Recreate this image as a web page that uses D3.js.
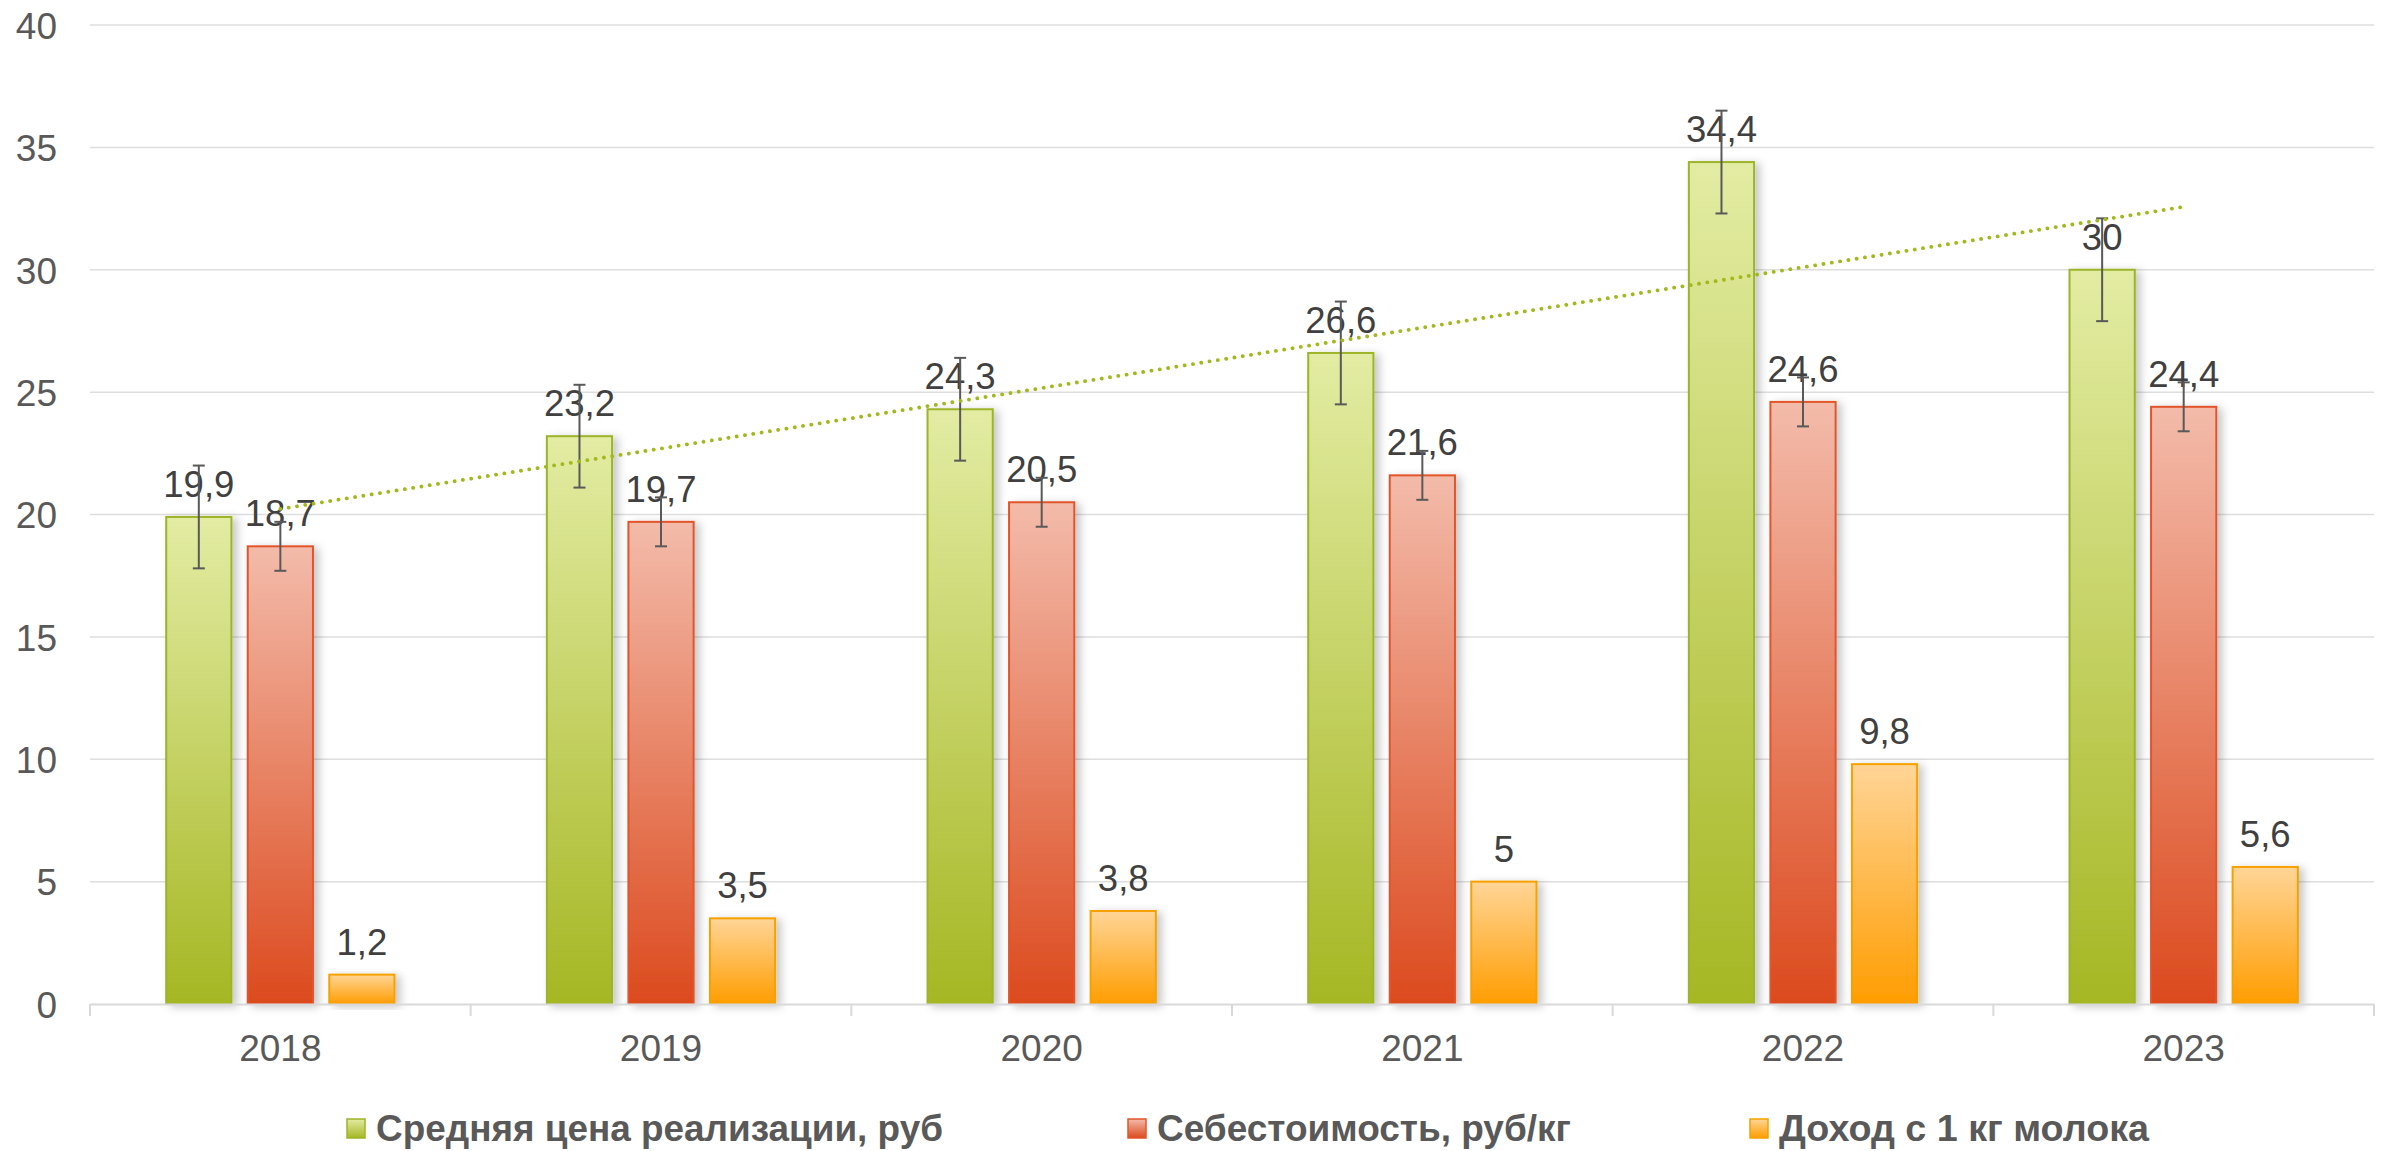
<!DOCTYPE html>
<html>
<head>
<meta charset="utf-8">
<script src="https://cdn.jsdelivr.net/npm/d3@7/dist/d3.min.js"></script>
<style>
  html, body { margin: 0; padding: 0; background: #fff; }
  svg { display: block; font-family: "Liberation Sans", Arial, sans-serif; }
</style>
</head>
<body>
<svg id="chart" width="2402" height="1151"></svg>
<script>
const years = ["2018", "2019", "2020", "2021", "2022", "2023"];
const seriesNames = ["Средняя цена реализации, руб", "Себестоимость, руб/кг", "Доход с 1 кг молока"];
const priceValues = [19.9, 23.2, 24.3, 26.6, 34.4, 30];
const costValues = [18.7, 19.7, 20.5, 21.6, 24.6, 24.4];
const incomeValues = [1.2, 3.5, 3.8, 5, 9.8, 5.6];
const priceErrors = [2.1, 2.1, 2.1, 2.1, 2.1, 2.1];
const costErrors = [1.0, 1.0, 1.0, 1.0, 1.0, 1.0];
const yTicks = [0, 5, 10, 15, 20, 25, 30, 35, 40];

const seriesValues = [priceValues, costValues, incomeValues];
const seriesErrors = [priceErrors, costErrors, null];
const seriesStyle = [
  { top: "#e3eca3", bottom: "#a5b723", stroke: "#9db42a" },
  { top: "#f3bbaa", bottom: "#dc4a1e", stroke: "#e2552a" },
  { top: "#ffd597", bottom: "#ff9d00", stroke: "#f5a100" }
];

const svg = d3.select("#chart");
const x = d3.scaleBand().domain(years).range([90, 2374]).paddingInner(0).paddingOuter(0);
const xs = d3.scaleBand().domain([0, 1, 2]).range([76.2, 304.5]).paddingInner(0.2).paddingOuter(0);
const y = d3.scaleLinear().domain([0, 40]).range([1004, 25]);

const defs = svg.append("defs");
seriesStyle.forEach((s, i) => {
  const g = defs.append("linearGradient").attr("id", "grad" + i)
    .attr("x1", 0).attr("y1", 0).attr("x2", 0).attr("y2", 1);
  g.append("stop").attr("offset", "0%").attr("stop-color", s.top);
  g.append("stop").attr("offset", "100%").attr("stop-color", s.bottom);
});
const f = defs.append("filter").attr("id", "shadow")
  .attr("x", "-20%").attr("y", "-10%").attr("width", "150%").attr("height", "130%");
f.append("feDropShadow").attr("dx", 5).attr("dy", 2).attr("stdDeviation", 4)
  .attr("flood-color", "#000").attr("flood-opacity", 0.22);

// gridlines
svg.append("g").selectAll("line").data(yTicks.filter(t => t > 0)).join("line")
  .attr("x1", 90).attr("x2", 2374)
  .attr("y1", d => y(d)).attr("y2", d => y(d))
  .attr("stroke", "#dedede").attr("stroke-width", 1.5);

// y labels
const yAxis = d3.axisLeft(y).tickValues(yTicks).tickSize(0).tickPadding(0).tickFormat(d3.format("d"));
const yg = svg.append("g").attr("transform", "translate(57,0)").call(yAxis);
yg.select(".domain").remove();
yg.selectAll("text").attr("font-size", 37).attr("fill", "#595959")
  .attr("font-family", "'Liberation Sans', Arial, sans-serif").attr("dy", "0.36em");

// bars
years.forEach((yr, j) => {
  seriesValues.forEach((vals, i) => {
    const v = vals[j];
    svg.append("rect")
      .attr("x", x(yr) + xs(i))
      .attr("y", y(v))
      .attr("width", xs.bandwidth())
      .attr("height", y(0) - y(v))
      .attr("fill", `url(#grad${i})`)
      .attr("stroke", seriesStyle[i].stroke)
      .attr("stroke-width", 2)
      .attr("filter", "url(#shadow)");
  });
});

// x axis
const xAxis = d3.axisBottom(x).tickSize(0).tickPadding(0);
const xg = svg.append("g").attr("transform", `translate(0,${y(0)})`).call(xAxis);
xg.select(".domain").attr("stroke", "#d9d9d9").attr("stroke-width", 2);
xg.selectAll("text").attr("font-size", 37).attr("fill", "#595959")
  .attr("font-family", "'Liberation Sans', Arial, sans-serif").attr("dy", 0).attr("y", 57);
const boundaries = years.map(d => x(d)).concat([x.range()[1]]);
svg.append("g").selectAll("line").data(boundaries).join("line")
  .attr("x1", d => d).attr("x2", d => d)
  .attr("y1", y(0)).attr("y2", y(0) + 12)
  .attr("stroke", "#d9d9d9").attr("stroke-width", 2);

// data labels
const fmt = v => String(v).replace(".", ",");
years.forEach((yr, j) => {
  seriesValues.forEach((vals, i) => {
    const v = vals[j];
    svg.append("text")
      .attr("x", x(yr) + xs(i) + xs.bandwidth() / 2)
      .attr("y", y(v) - 20)
      .attr("text-anchor", "middle")
      .attr("font-size", 36.5)
      .attr("fill", "#404040")
      .text(fmt(v));
  });
});

// error bars
years.forEach((yr, j) => {
  seriesErrors.forEach((errs, i) => {
    if (!errs) return;
    const v = seriesValues[i][j], e = errs[j];
    const cx = x(yr) + xs(i) + xs.bandwidth() / 2;
    const g = svg.append("g").attr("stroke", "#595959").attr("stroke-width", 2);
    g.append("line").attr("x1", cx).attr("x2", cx).attr("y1", y(v + e)).attr("y2", y(v - e));
    g.append("line").attr("x1", cx - 6).attr("x2", cx + 6).attr("y1", y(v + e)).attr("y2", y(v + e));
    g.append("line").attr("x1", cx - 6).attr("x2", cx + 6).attr("y1", y(v - e)).attr("y2", y(v - e));
  });
});

// linear trendline for price series
const xi = years.map((d, k) => k + 1);
const mx = d3.mean(xi), my = d3.mean(priceValues);
const slope = d3.sum(xi.map((a, k) => (a - mx) * (priceValues[k] - my))) / d3.sum(xi.map(a => (a - mx) * (a - mx)));
const icpt = my - slope * mx;
const trend = [
  [x(years[0]) + x.bandwidth() / 2, icpt + slope * 1],
  [x(years[years.length - 1]) + x.bandwidth() / 2, icpt + slope * years.length]
];
svg.append("path")
  .attr("d", d3.line().x(d => d[0]).y(d => y(d[1]))(trend))
  .attr("fill", "none").attr("stroke", "#a3b81c").attr("stroke-width", 3.8)
  .attr("stroke-linecap", "round").attr("stroke-dasharray", "0.1 8.3");

// legend
const legendX = [347, 1128, 1750];
const legendTextLen = [567, 414, 370];
const lg = svg.append("g");
seriesNames.forEach((name, i) => {
  lg.append("rect").attr("x", legendX[i]).attr("y", 1119).attr("width", 18).attr("height", 19)
    .attr("fill", `url(#grad${i})`).attr("stroke", seriesStyle[i].stroke).attr("stroke-width", 1.5);
  lg.append("text").attr("x", legendX[i] + 29).attr("y", 1141)
    .attr("font-size", 37).attr("font-weight", "bold").attr("fill", "#595959")
    .attr("textLength", legendTextLen[i]).attr("lengthAdjust", "spacingAndGlyphs")
    .text(name);
});
</script>
</body>
</html>
